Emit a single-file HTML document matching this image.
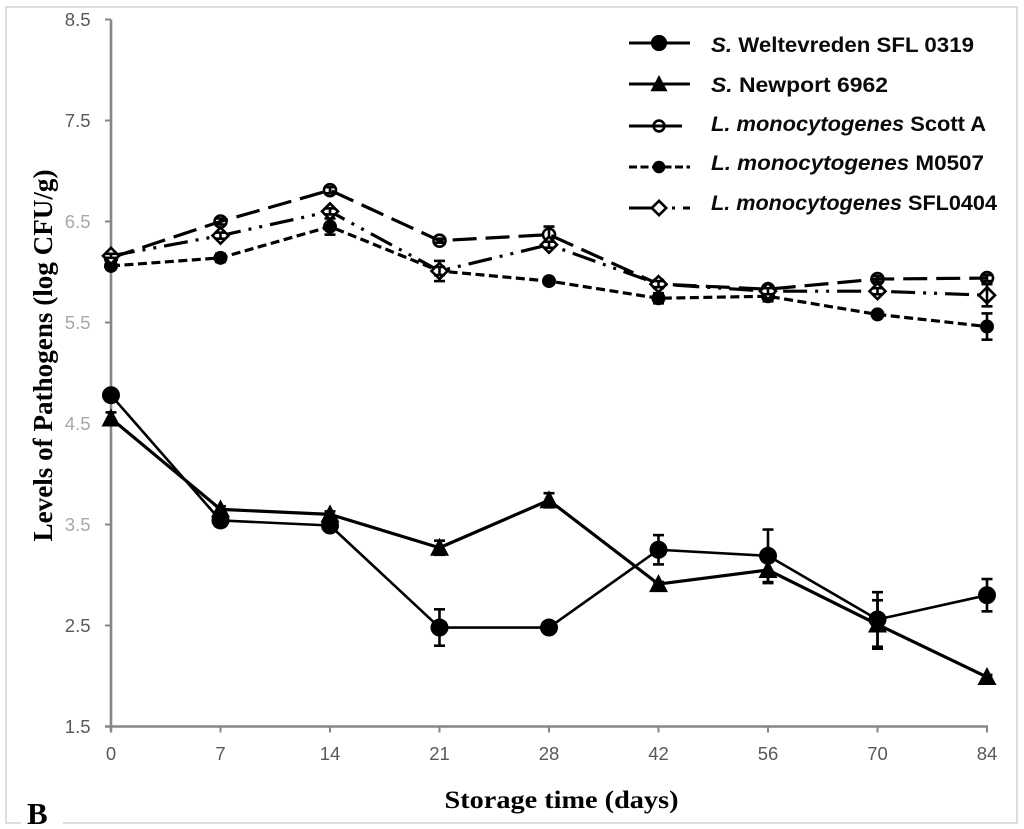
<!DOCTYPE html>
<html>
<head>
<meta charset="utf-8">
<style>
html,body{margin:0;padding:0;background:#fff;}
svg{display:block;}
.tick{font-family:"Liberation Sans",sans-serif;font-size:18.5px;fill:#595959;}
.leg{font-family:"Liberation Sans",sans-serif;font-size:21px;font-weight:bold;fill:#0a0a0a;}
.title{font-family:"Liberation Serif",serif;font-weight:bold;fill:#000;}
</style>
</head>
<body>
<svg id="chart" xmlns="http://www.w3.org/2000/svg" width="1024" height="829" viewBox="0 0 1024 829">
  <rect x="6" y="7" width="1011" height="816" fill="#fff" stroke="#dedede" stroke-width="2"/>
  <rect x="21" y="800" width="42" height="29" fill="#fff"/>
  <g id="axes"></g>
  <g id="marks"></g>
  <text class="title" transform="translate(52,355.5) rotate(-90)" text-anchor="middle" font-size="27" textLength="372" lengthAdjust="spacingAndGlyphs">Levels of Pathogens (log CFU/g)</text>
  <text class="title" x="561.5" y="808" text-anchor="middle" font-size="25" textLength="234" lengthAdjust="spacingAndGlyphs">Storage time (days)</text>
  <text class="title" x="27" y="824" font-size="31">B</text>
  <g id="legend">
    <text class="leg" x="711" y="52" textLength="263" lengthAdjust="spacingAndGlyphs"><tspan font-style="italic">S.</tspan> Weltevreden SFL 0319</text>
    <text class="leg" x="711" y="92" textLength="177" lengthAdjust="spacingAndGlyphs"><tspan font-style="italic">S.</tspan> Newport 6962</text>
    <text class="leg" x="711" y="131" textLength="275" lengthAdjust="spacingAndGlyphs"><tspan font-style="italic">L. monocytogenes</tspan> Scott A</text>
    <text class="leg" x="711" y="170" textLength="273" lengthAdjust="spacingAndGlyphs"><tspan font-style="italic">L. monocytogenes</tspan> M0507</text>
    <text class="leg" x="711" y="210" textLength="286" lengthAdjust="spacingAndGlyphs"><tspan font-style="italic">L. monocytogenes</tspan> SFL0404</text>
  </g>
</svg>
<script>
const categories = ['0', '7', '14', '21', '28', '42', '56', '70', '84'];
const yTicks = [1.5, 2.5, 3.5, 4.5, 5.5, 6.5, 7.5, 8.5];

const weltevreden = [4.78, 3.54, 3.49, 2.48, 2.48, 3.25, 3.19, 2.56, 2.80];
const newport = [4.55, 3.65, 3.60, 3.27, 3.74, 2.91, 3.05, 2.51, 1.99];
const scottA = [6.14, 6.50, 6.81, 6.31, 6.37, 5.88, 5.83, 5.93, 5.94];
const m0507 = [6.06, 6.14, 6.45, 6.01, 5.91, 5.74, 5.76, 5.58, 5.46];
const sfl0404 = [6.16, 6.36, 6.60, 6.01, 6.27, 5.88, 5.81, 5.81, 5.77];

const weltevredenErr = [0.02, 0.03, 0.03, 0.18, 0.02, 0.145, 0.26, 0.27, 0.16];
const newportErr = [0.06, 0.03, 0.03, 0.07, 0.07, 0.02, 0.13, 0.24, 0.02];
const scottAErr = [0.02, 0.03, 0.03, 0.02, 0.08, 0.03, 0.03, 0.03, 0.03];
const m0507Err = [0.02, 0.04, 0.08, 0.10, 0.02, 0.05, 0.05, 0.02, 0.13];
const sfl0404Err = [0.02, 0.03, 0.03, 0.04, 0.03, 0.03, 0.03, 0.03, 0.11];

const NS = 'http://www.w3.org/2000/svg';
const axesG = document.getElementById('axes');
const marksG = document.getElementById('marks');
const legendG = document.getElementById('legend');

function xScale(i) { return 111 + i * 109.5; }
function yScale(v) { return 726.5 - (v - 1.5) * 101; }

function make(tag, parent) {
  const el = document.createElementNS(NS, tag);
  parent.appendChild(el);
  return el;
}
function seg(parent, x1, y1, x2, y2, color, width) {
  const l = make('line', parent);
  l.setAttribute('x1', x1);
  l.setAttribute('y1', y1);
  l.setAttribute('x2', x2);
  l.setAttribute('y2', y2);
  l.setAttribute('stroke', color);
  l.setAttribute('stroke-width', width);
  return l;
}

/* axes */
const yAxisLine = seg(axesG, 111, yScale(8.5), 111, yScale(1.5) + 5, '#868686', 2.6);


const xAxisLine = seg(axesG, 105, yScale(1.5), xScale(8) + 1, yScale(1.5), '#868686', 2.6);



const fadedTicks = ['3.5', '4.5', '5.5', '6.5'];
yTicks.forEach(function (t) {
  const label = t.toFixed(1);
  const y = yScale(t);
  const tk = seg(axesG, 105, y, 111, y, '#868686', 2);
  
  
  const tx = make('text', axesG);
  tx.setAttribute('class', 'tick');
  
  
  tx.setAttribute('x', 90.5);
  tx.setAttribute('y', y + 6.5);
  tx.setAttribute('text-anchor', 'end');
  if (fadedTicks.indexOf(label) >= 0) tx.style.fill = '#a8a8a8';
  tx.textContent = label;
});
categories.forEach(function (c, i) {
  const x = xScale(i);
  const tk = seg(axesG, x, yScale(1.5), x, yScale(1.5) + 6, '#868686', 2);
  
  
  const tx = make('text', axesG);
  tx.setAttribute('class', 'tick');
  
  
  tx.setAttribute('x', x);
  tx.setAttribute('y', 760);
  tx.setAttribute('text-anchor', 'middle');
  tx.textContent = c;
});

/* markers */
function drawMarker(parent, kind, x, y, s) {
  let m;
  if (kind === 'big-circle') {
    m = make('circle', parent);
    m.setAttribute('cx', x);
    m.setAttribute('cy', y);
    m.setAttribute('r', 9 * s);
    m.setAttribute('fill', '#000');
  } else if (kind === 'triangle') {
    m = make('path', parent);
    m.setAttribute('d', 'M' + x + ' ' + (y - 10 * s) + 'L' + (x + 9.5 * s) + ' ' + (y + 8 * s) + 'L' + (x - 9.5 * s) + ' ' + (y + 8 * s) + 'Z');
    m.setAttribute('fill', '#000');
  } else if (kind === 'open-circle') {
    m = make('circle', parent);
    m.setAttribute('cx', x);
    m.setAttribute('cy', y);
    m.setAttribute('r', 6 * s);
    m.setAttribute('fill', 'none');
    m.setAttribute('stroke', '#000');
    m.setAttribute('stroke-width', 2.6);
  } else if (kind === 'dot') {
    m = make('circle', parent);
    m.setAttribute('cx', x);
    m.setAttribute('cy', y);
    m.setAttribute('r', 7 * s);
    m.setAttribute('fill', '#000');
  } else {
    m = make('path', parent);
    m.setAttribute('d', 'M' + x + ' ' + (y - 8 * s) + 'L' + (x + 8 * s) + ' ' + y + 'L' + x + ' ' + (y + 8 * s) + 'L' + (x - 8 * s) + ' ' + y + 'Z');
    m.setAttribute('fill', '#fff');
    m.setAttribute('stroke', '#000');
    m.setAttribute('stroke-width', 2.6);
  }
  
  
}

/* series drawing */
function drawSeries(name, values, errs, kind, width, dash) {
  const g = make('g', marksG);
  
  

  const line = make('polyline', g);
  
  
  line.setAttribute('points', values.map(function (v, i) { return xScale(i) + ',' + yScale(v); }).join(' '));
  line.setAttribute('fill', 'none');
  line.setAttribute('stroke', '#000');
  line.setAttribute('stroke-width', width);
  line.setAttribute('stroke-linejoin', 'round');
  if (dash) line.setAttribute('stroke-dasharray', dash);

  values.forEach(function (v, i) {
    drawMarker(g, kind, xScale(i), yScale(v), 1);
  });

  values.forEach(function (v, i) {
    const x = xScale(i);
    const yTop = yScale(v + errs[i]);
    const yBot = yScale(v - errs[i]);
    const stem = seg(g, x, yTop, x, yBot, '#000', 2.6);
    
    
    const capT = seg(g, x - 5.5, yTop, x + 5.5, yTop, '#000', 2.6);
    
    
    const capB = seg(g, x - 5.5, yBot, x + 5.5, yBot, '#000', 2.6);
    
    
  });
}

const dashScott = '24 9';
const dashM = '9 4.5';
const dashSfl = '24 8 3 8 3 8';

drawSeries('weltevreden', weltevreden, weltevredenErr, 'big-circle', 2.6, null);
drawSeries('newport', newport, newportErr, 'triangle', 3.2, null);
drawSeries('scott-a', scottA, scottAErr, 'open-circle', 3.2, dashScott);
drawSeries('m0507', m0507, m0507Err, 'dot', 3.2, dashM);
drawSeries('sfl0404', sfl0404, sfl0404Err, 'diamond', 3.2, dashSfl);

/* legend keys */
function legendKey(name, y, x2, kind, dash) {
  const k = seg(legendG, 629, y, x2, y, '#000', 3);
  
  
  if (dash) k.setAttribute('stroke-dasharray', dash);
  drawMarker(legendG, kind, 659, y, 0.9);
}
legendKey('weltevreden', 43, 690, 'big-circle', null);
legendKey('newport', 84, 690, 'triangle', null);
legendKey('scott-a', 126, 682, 'open-circle', null);
legendKey('m0507', 167, 690, 'dot', '8 3.5');
legendKey('sfl0404', 208, 690, 'diamond', '23 20 3 8 7 100');
</script>
</body>
</html>
